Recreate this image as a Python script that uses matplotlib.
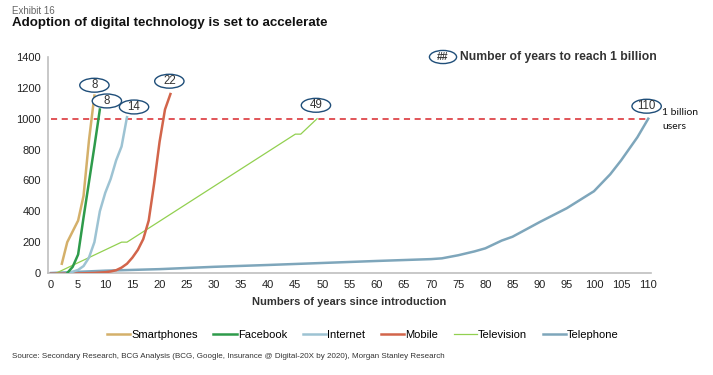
import matplotlib.pyplot as plt
from matplotlib.patches import Ellipse
import numpy as np

plt.rcParams['font.family'] = ['Liberation Sans', 'DejaVu Sans']

# data (millions of users vs years since introduction)
smart_x = [2, 3, 4, 5, 6, 7, 8]
smart_y = [60, 200, 270, 340, 500, 860, 1150]

fb_x = [3, 4, 5, 6, 7, 8, 9]
fb_y = [0, 40, 120, 360, 590, 820, 1060]

net_x = [3, 4, 5, 6, 7, 8, 9, 10, 11, 12, 13, 14]
net_y = [0, 8, 20, 45, 100, 200, 400, 520, 610, 730, 820, 1010]

mob_x = [0, 2, 4, 6, 8, 10, 11, 12, 13, 14, 15, 16, 17, 18, 19, 20, 21, 22]
mob_y = [-5, -5, -4, -2, 0, 5, 10, 18, 35, 60, 100, 150, 220, 340, 580, 850, 1060, 1160]

tv_x = [1, 13, 14, 45, 46, 49]
tv_y = [0, 200, 200, 900, 900, 1000]

tel_x = [0, 10, 20, 30, 40, 50, 60, 70, 72, 75, 78, 80, 83, 85, 90, 95, 100, 103, 105, 108, 110]
tel_y = [0, 15, 25, 40, 52, 65, 78, 90, 95, 115, 140, 160, 210, 235, 330, 420, 530, 640, 730, 880, 1000]

# years to reach 1 billion, with label positions
badges = [('8', 8.0, 1217), ('8', 10.3, 1115), ('14', 15.3, 1076),
          ('22', 21.8, 1243), ('49', 48.8, 1087), ('110', 109.7, 1081)]

fig = plt.figure(figsize=(7.13, 3.75), dpi=100)
ax = fig.add_axes([0.0673, 0.272, 0.8457, 0.576])

ax.axhline(1000, xmin=0.005, xmax=0.995, color='#D9262B', lw=1.1, ls=(0, (4, 3)), zorder=1)

ax.plot(tel_x, tel_y, color='#7EA6BB', lw=1.8, label='Telephone', zorder=3)
ax.plot(tv_x, tv_y, color='#92D050', lw=0.9, label='Television', zorder=3)
ax.plot(mob_x, mob_y, color='#D2654B', lw=1.8, label='Mobile', zorder=3)
ax.plot(net_x, net_y, color='#9DC3D3', lw=1.8, label='Internet', zorder=3)
ax.plot(fb_x, fb_y, color='#2E9B4B', lw=1.8, label='Facebook', zorder=3)
ax.plot(smart_x, smart_y, color='#D4B06A', lw=1.8, label='Smartphones', zorder=3)

for txt, bx, by in badges:
    ax.add_patch(Ellipse((bx, by), 5.4, 90, fc='white', ec='#1F4E79', lw=1.0, zorder=5, clip_on=False))
    ax.text(bx, by, txt, ha='center', va='center', fontsize=8.3, color='#333333', zorder=6)

ax.add_patch(Ellipse((72.2, 1400), 5.0, 85, fc='white', ec='#1F4E79', lw=1.0, zorder=5, clip_on=False))
ax.text(72.2, 1400, '##', ha='center', va='center', fontsize=7.5, fontweight='bold', color='#333333', zorder=6)
ax.text(75.4, 1400, 'Number of years to reach 1 billion', ha='left', va='center',
        fontsize=8.7, fontweight='bold', color='#333333')

ax.text(112.6, 995, '1 billion\nusers', ha='left', va='center', fontsize=7.5,
        family=['Lato', 'DejaVu Sans'], color='#111111', linespacing=1.85)

ax.set_xlim(-0.55, 110.5)
ax.set_ylim(0, 1400)
ax.set_xticks(np.arange(0, 111, 5))
ax.set_yticks(np.arange(0, 1401, 200))
ax.tick_params(length=0, labelsize=8, colors='#222222', pad=5)
for s in ['top', 'right']:
    ax.spines[s].set_visible(False)
for s in ['left', 'bottom']:
    ax.spines[s].set_color('#BFBFBF')
    ax.spines[s].set_linewidth(1.2)
ax.set_xlabel('Numbers of years since introduction', fontsize=8, fontweight='bold',
              color='#333333', labelpad=5)

order = ['Smartphones', 'Facebook', 'Internet', 'Mobile', 'Television', 'Telephone']
h, l = ax.get_legend_handles_labels()
hd = dict(zip(l, h))
fig.legend([hd[k] for k in order], order, loc='center', bbox_to_anchor=(0.509, 0.107),
           ncol=6, frameon=False, fontsize=8, handlelength=2.1, handletextpad=0.1,
           columnspacing=1.4)

fig.text(0.017, 0.972, 'Exhibit 16', fontsize=7, color='#666666', va='center')
fig.text(0.017, 0.938, 'Adoption of digital technology is set to accelerate', fontsize=9.6,
         fontweight='bold', color='#111111', va='center')
fig.text(0.017, 0.048, 'Source: Secondary Research, BCG Analysis (BCG, Google, Insurance @ Digital-20X by 2020), Morgan Stanley Research',
         fontsize=5.8, color='#333333', va='center')

fig.savefig('out.png', dpi=100)
